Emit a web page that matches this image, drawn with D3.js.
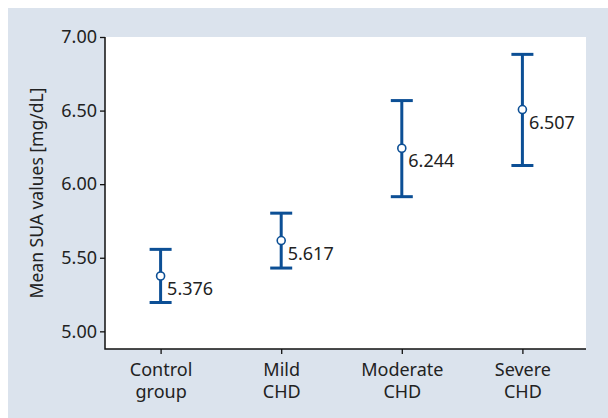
<!DOCTYPE html>
<html>
<head>
<meta charset="utf-8">
<script src="https://cdn.jsdelivr.net/npm/d3@7"></script>
<style>
	body { margin: 0; background: #fff; }
	svg { display: block; font-family: "Noto Sans", sans-serif; }
</style>
</head>
<body>
<svg width="608" height="418"></svg>
<script>
// values
const categories = [["Control", "group"], ["Mild", "CHD"], ["Moderate", "CHD"], ["Severe", "CHD"]];
const means = [5.376, 5.617, 6.244, 6.507];
const upper = [5.557, 5.803, 6.568, 6.882];
const lower = [5.196, 5.430, 5.915, 6.127];
const yTicks = [5.0, 5.5, 6.0, 6.5, 7.0];

const svg = d3.select("svg");
const blue = "#0c4f95";
const plot = { left: 105, right: 586, top: 37, bottom: 349 };

// panel background
svg.append("rect")
	.attr("x", 8)
	.attr("y", 8)
	.attr("width", 600)
	.attr("height", 410)
	.attr("fill", "#dbe3ed");
svg.append("rect")
	.attr("x", plot.left)
	.attr("y", plot.top)
	.attr("width", plot.right - plot.left)
	.attr("height", plot.bottom - plot.top)
	.attr("fill", "#fff");

const idx = categories.map((d, i) => i);
const x = d3.scalePoint().domain(idx).range([160.6, 522.4]);
const y = d3.scaleLinear().domain([4.88, 7.0]).range([plot.bottom, plot.top]);

// y axis
const yAxis = svg.append("g")
	.attr("transform", "translate(" + plot.left + ",0)")
	.call(d3.axisLeft(y).tickValues(yTicks).tickFormat(d3.format(".2f")).tickSize(5).tickSizeOuter(0))
	.attr("font-family", "Noto Sans")
	.attr("font-size", 18);
yAxis.select(".domain").remove();
yAxis.selectAll(".tick line").attr("stroke", "#111").attr("stroke-width", 1.3);
yAxis.selectAll(".tick text")
	.attr("x", -8)
	.attr("fill", "#222");

// x axis
const xAxis = svg.append("g")
	.attr("transform", "translate(0," + plot.bottom + ")")
	.call(d3.axisBottom(x).tickSize(5).tickSizeOuter(0).tickFormat(""))
	.attr("font-family", "Noto Sans")
	.attr("font-size", 18);
xAxis.select(".domain").remove();
xAxis.selectAll(".tick line").attr("stroke", "#111").attr("stroke-width", 1.3);
xAxis.selectAll(".tick text").remove();
xAxis.selectAll(".tick").each(function (i) {
	const t = d3.select(this).append("text")
		.attr("fill", "#222")
		.attr("text-anchor", "middle");
	categories[i].forEach((line, k) => {
		t.append("tspan").attr("x", 0).attr("y", 27 + k * 22).text(line);
	});
});

// axis lines
svg.append("path")
	.attr("d", "M" + plot.left + "," + plot.top + "V" + plot.bottom + "H" + plot.right)
	.attr("fill", "none")
	.attr("stroke", "#111")
	.attr("stroke-width", 1.5);

// y title
svg.append("text")
	.attr("transform", "translate(43," + (plot.top + plot.bottom) / 2 + ") rotate(-90)")
	.attr("text-anchor", "middle")
	.attr("font-size", 17.5)
	.attr("fill", "#222")
	.text("Mean SUA values [mg/dL]");

// error bars
const bars = svg.append("g").selectAll("g")
	.data(idx)
	.join("g")
	.attr("transform", (i) => "translate(" + x(i) + ",0)");

bars.append("line")
	.attr("y1", (i) => y(upper[i]))
	.attr("y2", (i) => y(lower[i]))
	.attr("stroke", blue)
	.attr("stroke-width", 3);
bars.append("line")
	.attr("x1", -11).attr("x2", 11)
	.attr("y1", (i) => y(upper[i]))
	.attr("y2", (i) => y(upper[i]))
	.attr("stroke", blue)
	.attr("stroke-width", 3);
bars.append("line")
	.attr("x1", -11).attr("x2", 11)
	.attr("y1", (i) => y(lower[i]))
	.attr("y2", (i) => y(lower[i]))
	.attr("stroke", blue)
	.attr("stroke-width", 3);
bars.append("circle")
	.attr("cy", (i) => y(means[i]))
	.attr("r", 4)
	.attr("fill", "#fff")
	.attr("stroke", blue)
	.attr("stroke-width", 1.6);
bars.append("text")
	.attr("x", 6.5)
	.attr("y", (i) => y(means[i]) + 19)
	.attr("font-size", 18)
	.attr("fill", "#222")
	.text((i) => d3.format(".3f")(means[i]));
</script>
</body>
</html>
